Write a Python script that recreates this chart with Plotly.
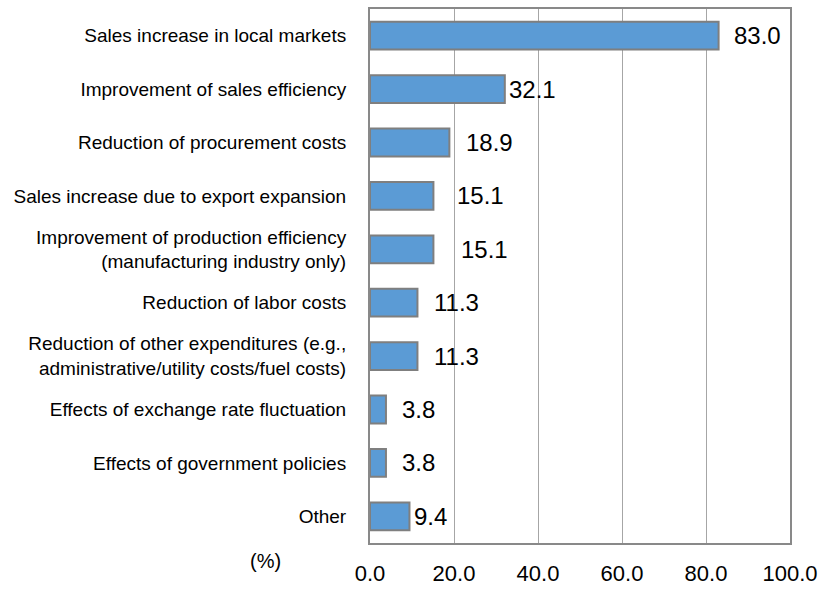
import plotly.graph_objects as go

# Survey items (top to bottom) and the share of respondents, in percent
categories = [
    "Sales increase in local markets",
    "Improvement of sales efficiency",
    "Reduction of procurement costs",
    "Sales increase due to export expansion",
    "Improvement of production efficiency<br>(manufacturing industry only)",
    "Reduction of labor costs",
    "Reduction of other expenditures (e.g.,<br>administrative/utility costs/fuel costs)",
    "Effects of exchange rate fluctuation",
    "Effects of government policies",
    "Other",
]
values = [83.0, 32.1, 18.9, 15.1, 15.1, 11.3, 11.3, 3.8, 3.8, 9.4]
tick_values = [0, 20, 40, 60, 80, 100]

# Horizontal pixel offsets of each value label from its bar end
label_shift = [13, 2, 15, 22, 26, 15, 15, 14, 14, 3]

FONT = "Liberation Sans, Arial, sans-serif"

fig = go.Figure(
    go.Bar(
        x=values,
        y=categories,
        orientation="h",
        width=0.52,
        marker=dict(color="#5B9BD5", line=dict(color="#7F7F7F", width=2)),
        hoverinfo="skip",
    )
)

for cat, val, dx in zip(categories, values, label_shift):
    fig.add_annotation(
        x=val, y=cat, xref="x", yref="y",
        text=f"{val:.1f}", showarrow=False,
        xanchor="left", yanchor="middle", xshift=dx,
        font=dict(family=FONT, size=24, color="#000000"),
    )

fig.add_annotation(
    x=-0.25, y=-0.034, xref="paper", yref="paper",
    text="(%)", showarrow=False, xanchor="center", yanchor="middle",
    font=dict(family=FONT, size=20, color="#000000"),
)

fig.update_layout(
    width=821, height=589,
    margin=dict(l=370, r=31, t=9, b=46),
    paper_bgcolor="white", plot_bgcolor="white",
    showlegend=False,
    bargap=0.48,
)
fig.update_xaxes(
    range=[0, 100],
    tickvals=tick_values,
    tickformat=".1f",
    showgrid=True, gridcolor="#A6A6A6", gridwidth=1,
    showline=True, linecolor="#898989", linewidth=2, mirror=True,
    ticks="", ticklabelstandoff=10,
    tickfont=dict(family=FONT, size=22, color="#000000"),
    zeroline=False, fixedrange=True, automargin=False,
)
fig.update_yaxes(
    autorange="reversed",
    showgrid=False,
    showline=True, linecolor="#898989", linewidth=2, mirror=True,
    ticks="", ticklabelstandoff=18,
    tickfont=dict(family=FONT, size=19, color="#000000"),
    fixedrange=True, automargin=False,
)

fig.write_html("out.html")
